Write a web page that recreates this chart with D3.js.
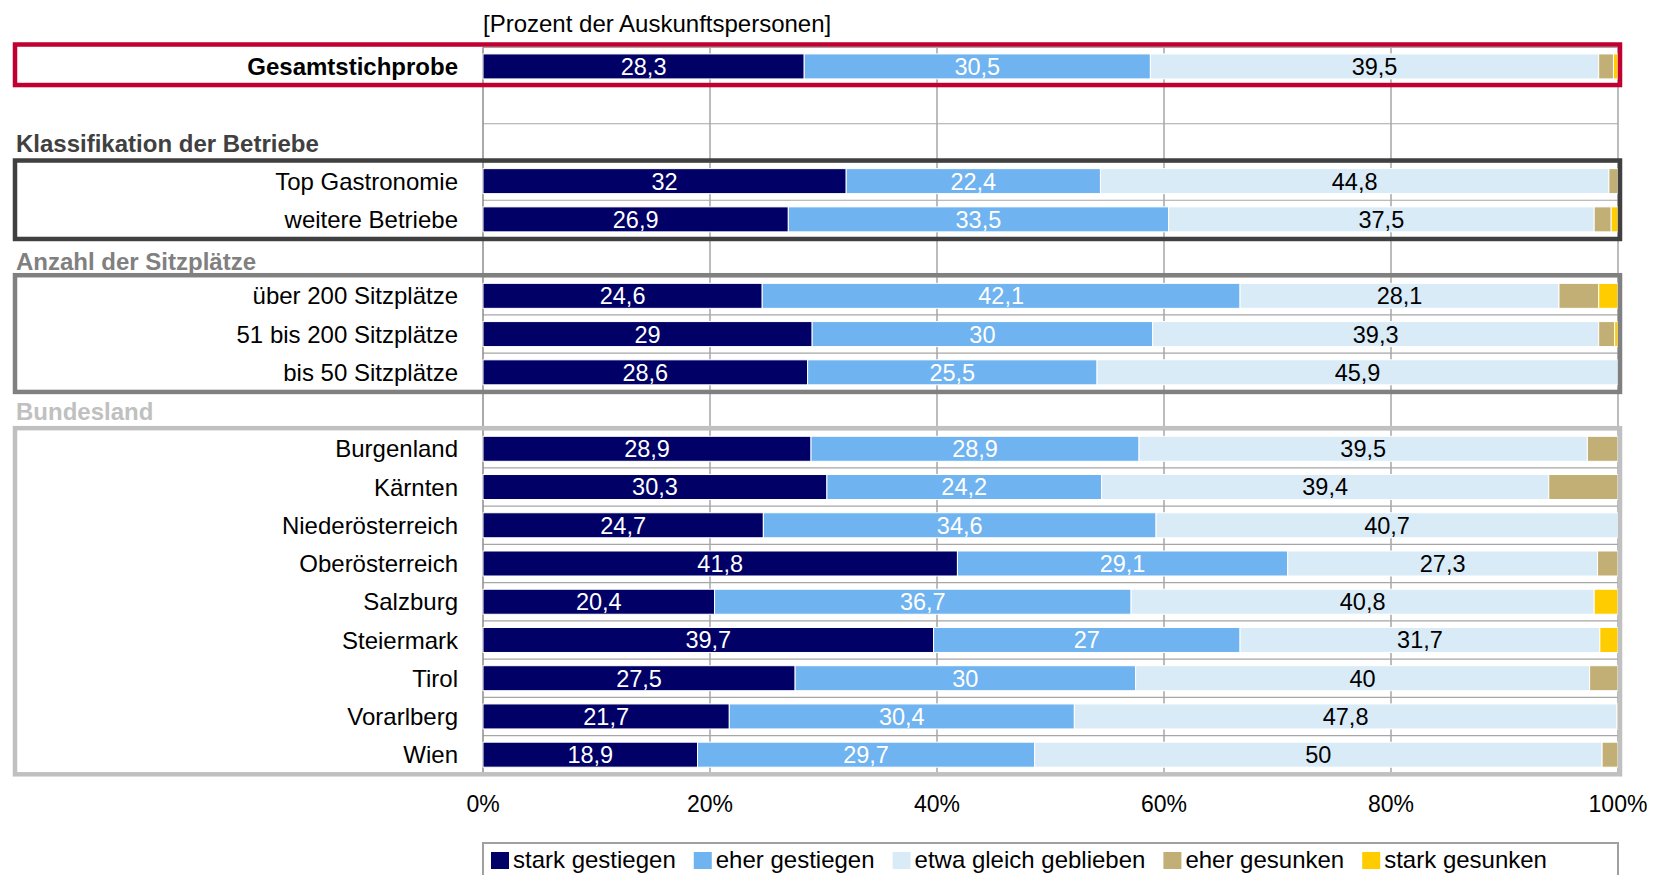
<!DOCTYPE html>
<html>
<head>
<meta charset="utf-8">
<script src="https://cdn.jsdelivr.net/npm/d3@7"></script>
<style>
  body { margin: 0; background: #fff; }
  text { font-family: "Liberation Sans", Arial, sans-serif; }
</style>
</head>
<body>
<svg id="chart" width="1653" height="875"></svg>
<script>
// Categories (top to bottom)
const categories = [
  "Gesamtstichprobe",
  "Top Gastronomie", "weitere Betriebe",
  "über 200 Sitzplätze", "51 bis 200 Sitzplätze", "bis 50 Sitzplätze",
  "Burgenland", "Kärnten", "Niederösterreich", "Oberösterreich", "Salzburg",
  "Steiermark", "Tirol", "Vorarlberg", "Wien"
];

// Series values in percent
const starkGestiegen = [28.3, 32, 26.9, 24.6, 29, 28.6, 28.9, 30.3, 24.7, 41.8, 20.4, 39.7, 27.5, 21.7, 18.9];
const eherGestiegen  = [30.5, 22.4, 33.5, 42.1, 30, 25.5, 28.9, 24.2, 34.6, 29.1, 36.7, 27, 30, 30.4, 29.7];
const etwaGleich     = [39.5, 44.8, 37.5, 28.1, 39.3, 45.9, 39.5, 39.4, 40.7, 27.3, 40.8, 31.7, 40, 47.8, 50];
const eherGesunken   = [1.3, 0.8, 1.5, 3.5, 1.4, 0, 2.7, 6.1, 0, 1.8, 0, 0, 2.5, 0.1, 1.4];
const starkGesunken  = [0.4, 0, 0.6, 1.7, 0.3, 0, 0, 0, 0, 0, 2.1, 1.6, 0, 0, 0];

const seriesNames = ["stark gestiegen", "eher gestiegen", "etwa gleich geblieben", "eher gesunken", "stark gesunken"];
const seriesColors = ["#000066", "#6fb3f0", "#daebf8", "#c2af75", "#ffcc00"];
const labelColors = ["#ffffff", "#ffffff", "#000000"];

// Groups: header text and member categories
const groupHeaders = ["Klassifikation der Betriebe", "Anzahl der Sitzplätze", "Bundesland"];
const groupMembers = [
  ["Top Gastronomie", "weitere Betriebe"],
  ["über 200 Sitzplätze", "51 bis 200 Sitzplätze", "bis 50 Sitzplätze"],
  ["Burgenland", "Kärnten", "Niederösterreich", "Oberösterreich", "Salzburg", "Steiermark", "Tirol", "Vorarlberg", "Wien"]
];
const groupColors = ["#404040", "#808080", "#c0c0c0"];

const xTicks = [0, 20, 40, 60, 80, 100];
const titleText = "[Prozent der Auskunftspersonen]";

// Layout
const plotLeft = 483, plotRight = 1618;
const plotTop = 47.3, plotBottom = 773.8;
const boxLeft = 15, boxRight = 1620;

// Build row slots: total row, a gap, then header + members for each group
const slots = ["Gesamtstichprobe", "__gap"];
groupHeaders.forEach(function(h, i) {
  slots.push("__h" + i);
  groupMembers[i].forEach(function(m) { slots.push(m); });
});

const svg = d3.select("#chart");

const x = d3.scaleLinear().domain([0, 100]).range([plotLeft, plotRight]);
const y = d3.scaleBand().domain(slots).range([plotTop, plotBottom]).paddingInner(0).paddingOuter(0);
const step = y.step();
const barH = 25;

// Table for the stack
const keys = ["s0", "s1", "s2", "s3", "s4"];
const table = categories.map(function(c, i) {
  return {
    cat: c,
    s0: starkGestiegen[i], s1: eherGestiegen[i], s2: etwaGleich[i],
    s3: eherGesunken[i], s4: starkGesunken[i]
  };
});
const stacked = d3.stack().keys(keys)(table);

// Horizontal grid lines at row boundaries
const grid = svg.append("g");
d3.range(slots.length + 1).forEach(function(k) {
  grid.append("line")
    .attr("x1", plotLeft).attr("x2", plotRight)
    .attr("y1", plotTop + k * step).attr("y2", plotTop + k * step)
    .attr("stroke", "#a6a6a6").attr("stroke-width", 1.2);
});

// Vertical grid lines
grid.selectAll(".vgrid")
  .data(xTicks)
  .enter()
  .append("line")
  .attr("class", "vgrid")
  .attr("x1", function(d) { return x(d); })
  .attr("x2", function(d) { return x(d); })
  .attr("y1", plotTop).attr("y2", plotBottom)
  .attr("stroke", function(d) { return d === 0 ? "#8c8c8c" : "#a6a6a6"; })
  .attr("stroke-width", 1.5);

// Bars
const layers = svg.append("g")
  .selectAll("g")
  .data(stacked)
  .enter()
  .append("g")
  .attr("fill", function(d, i) { return seriesColors[i]; });

layers.selectAll("rect")
  .data(function(d) { return d.filter(function(p) { return p[1] - p[0] > 0; }); })
  .enter()
  .append("rect")
  .attr("x", function(d) { return x(d[0]); })
  .attr("width", function(d) { return x(d[1]) - x(d[0]); })
  .attr("y", function(d) { return y(d.data.cat) + (step - barH) / 2; })
  .attr("height", barH)
  .attr("stroke", "#fff")
  .attr("stroke-width", 1);

// Value labels for the first three series
stacked.slice(0, 3).forEach(function(layer, i) {
  svg.append("g")
    .selectAll("text")
    .data(layer)
    .enter()
    .append("text")
    .attr("x", function(d) { return (x(d[0]) + x(d[1])) / 2; })
    .attr("y", function(d) { return y(d.data.cat) + step / 2; })
    .attr("dy", "0.36em")
    .attr("text-anchor", "middle")
    .attr("fill", labelColors[i])
    .style("font-size", "23.5px")
    .text(function(d) { return String(d.data[keys[i]]).replace(".", ","); });
});

// Category labels
svg.append("g")
  .selectAll("text")
  .data(categories)
  .enter()
  .append("text")
  .attr("x", 458)
  .attr("y", function(d) { return y(d) + step / 2; })
  .attr("dy", "0.36em")
  .attr("text-anchor", "end")
  .style("font-size", "24px")
  .style("font-weight", function(d, i) { return i === 0 ? "bold" : "normal"; })
  .attr("fill", "#000")
  .text(function(d) { return d; });

// Group headers
const headerShift = [0, 4, 1];
groupHeaders.forEach(function(h, i) {
  svg.append("text")
    .attr("x", 16)
    .attr("y", y("__h" + i) + step / 2 + headerShift[i])
    .attr("dy", "0.36em")
    .style("font-size", "24px")
    .style("font-weight", "bold")
    .attr("fill", groupColors[i])
    .text(h);
});

// Boxes
const boxes = svg.append("g").attr("fill", "none").attr("stroke-width", 4.5);
boxes.append("rect")
  .attr("x", boxLeft).attr("width", boxRight - boxLeft)
  .attr("y", y("Gesamtstichprobe") - 2.8)
  .attr("height", step + 2.3)
  .attr("stroke", "#c00030");
groupMembers.forEach(function(members, i) {
  const top = y(members[0]);
  const bottom = y(members[members.length - 1]) + step;
  boxes.append("rect")
    .attr("x", boxLeft).attr("width", boxRight - boxLeft)
    .attr("y", top - 1.5)
    .attr("height", bottom - top + 2)
    .attr("stroke", groupColors[i]);
});

// X axis tick labels
svg.append("g")
  .selectAll("text")
  .data(xTicks)
  .enter()
  .append("text")
  .attr("x", function(d) { return x(d); })
  .attr("y", 804)
  .attr("dy", "0.36em")
  .attr("text-anchor", "middle")
  .style("font-size", "23px")
  .text(function(d) { return d + "%"; });

// Title
svg.append("text")
  .attr("x", plotLeft)
  .attr("y", 23)
  .attr("dy", "0.36em")
  .style("font-size", "24px")
  .text(titleText);

// Legend
svg.append("rect")
  .attr("x", plotLeft).attr("y", 843)
  .attr("width", plotRight - plotLeft).attr("height", 60)
  .attr("fill", "none").attr("stroke", "#a0a0a0").attr("stroke-width", 2);

let lx = 491;
seriesNames.forEach(function(name, i) {
  svg.append("rect")
    .attr("x", lx).attr("y", 852)
    .attr("width", 18).attr("height", 17)
    .attr("fill", seriesColors[i]);
  const t = svg.append("text")
    .attr("x", lx + 22)
    .attr("y", 859)
    .attr("dy", "0.36em")
    .style("font-size", "24px")
    .text(name);
  lx = lx + 22 + t.node().getComputedTextLength() + 18;
});
</script>
</body>
</html>
